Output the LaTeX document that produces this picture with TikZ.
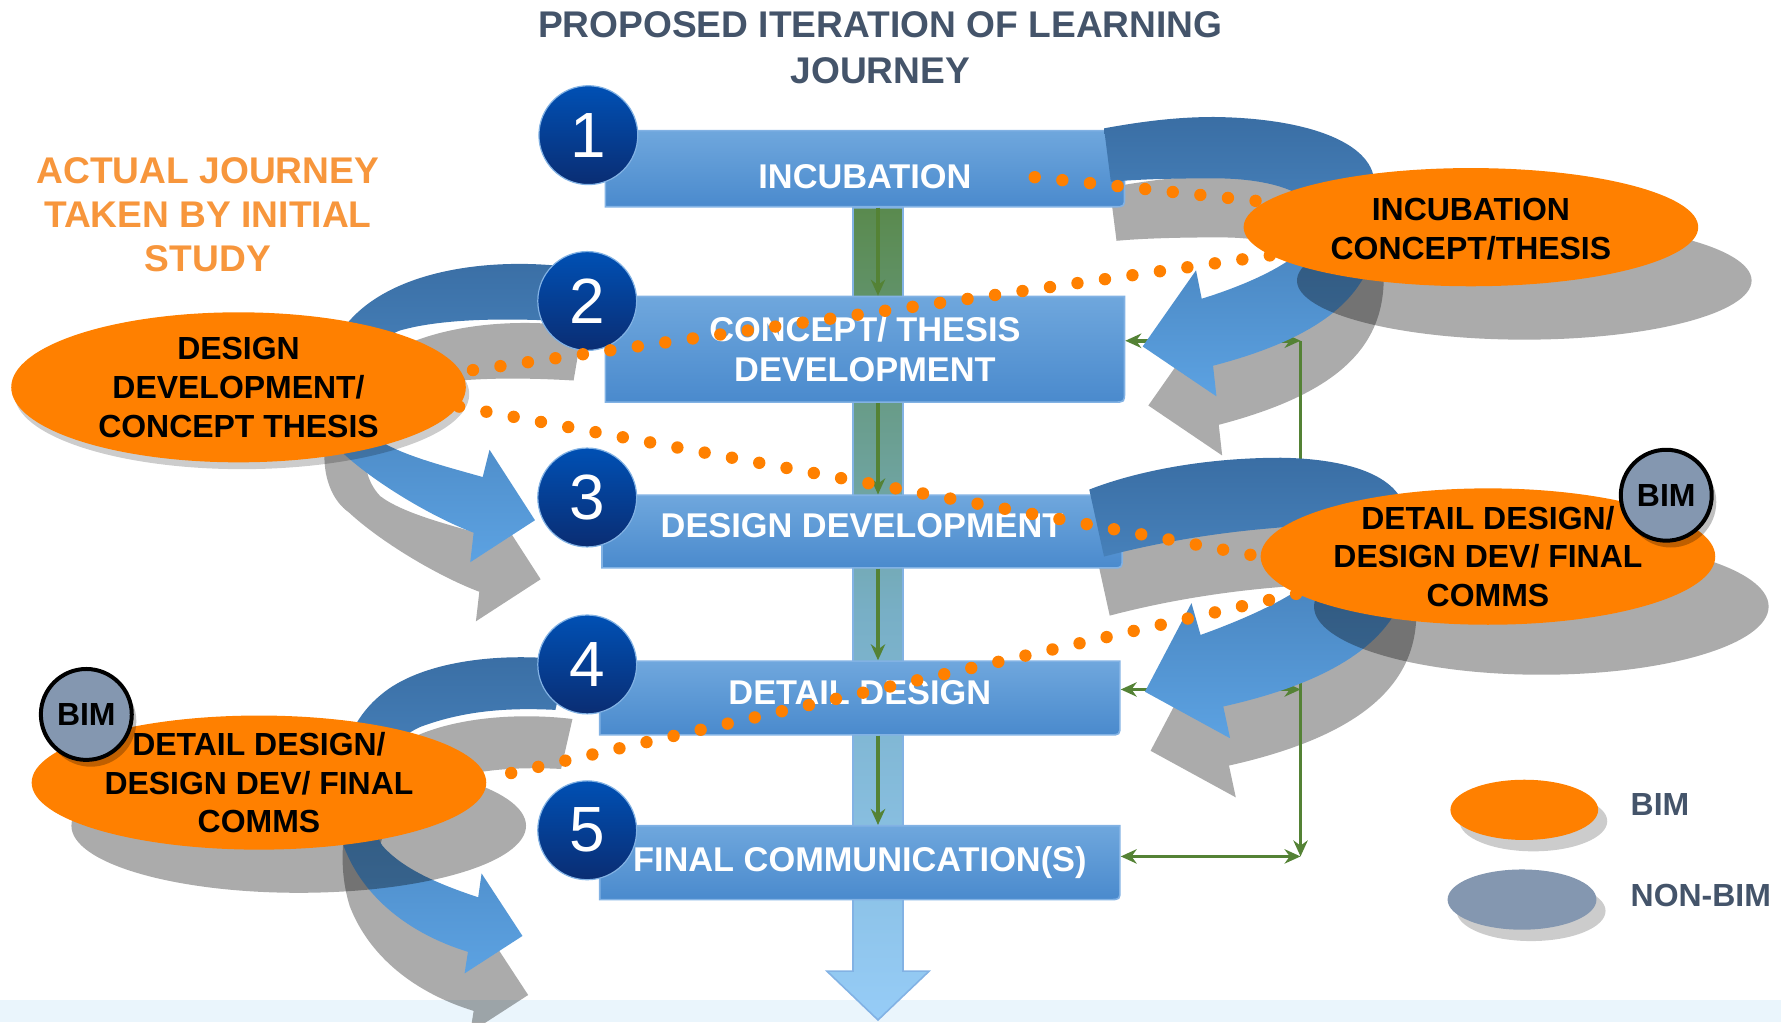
\documentclass[tikz,border=0pt]{standalone}
\usepackage{fontspec}
\setmainfont{Liberation Sans}
\usetikzlibrary{arrows.meta,shapes.geometric}

\definecolor{bimorange}{RGB}{255,128,0}
\definecolor{titleslate}{RGB}{68,84,106}
\definecolor{journeyorange}{RGB}{247,150,60}
\definecolor{stagetop}{RGB}{111,167,221}
\definecolor{stagebot}{RGB}{74,138,205}
\definecolor{stageedge}{RGB}{130,178,228}
\definecolor{disctop}{RGB}{0,80,180}
\definecolor{discbot}{RGB}{10,45,115}
\definecolor{loopdark}{RGB}{58,110,164}
\definecolor{looplight}{RGB}{92,162,226}
\definecolor{railgreen}{RGB}{84,130,53}
\definecolor{bargreen}{RGB}{90,138,78}
\definecolor{barmid}{RGB}{120,175,198}
\definecolor{barblue}{RGB}{150,204,247}
\definecolor{bimgrey}{RGB}{132,151,176}
\definecolor{footblue}{RGB}{234,245,252}

\pgfdeclarelayer{back}
\pgfsetlayers{back,main}

% outlines of the four journey loops
\newcommand\loopIncub{(972,113) .. controls (1010,106) and (1040,103) .. (1069,103)
  .. controls (1150,104) and (1208,125) .. (1210,160)
  .. controls (1225,240) and (1190,290) .. (1068,322)
  -- (1071,349) -- (1006,305) -- (1053,238) -- (1058,263)
  .. controls (1100,250) and (1160,225) .. (1160,195)
  .. controls (1160,170) and (1120,157) .. (1069,157)
  .. controls (1030,157) and (1000,158) .. (978,160) -- cycle}
\newcommand\loopConcept{(508,236) .. controls (440,226) and (350,235) .. (308,282)
  .. controls (270,325) and (275,380) .. (302,399)
  .. controls (330,425) and (380,455) .. (417,469)
  -- (414,495) -- (471,458) -- (431,396) -- (425,420)
  .. controls (390,410) and (350,400) .. (330,385)
  .. controls (305,360) and (315,305) .. (352,291)
  .. controls (390,280) and (450,280) .. (500,283) -- cycle}
\newcommand\loopDesign{(959,431) .. controls (1000,415) and (1060,403) .. (1128,403)
  .. controls (1190,404) and (1236,420) .. (1238,455)
  .. controls (1255,530) and (1220,590) .. (1077,622)
  -- (1083,650) -- (1008,609) -- (1049,531) -- (1057,559)
  .. controls (1110,540) and (1175,510) .. (1175,480)
  .. controls (1175,462) and (1150,462) .. (1120,465)
  .. controls (1060,470) and (1010,480) .. (972,490) -- cycle}
\newcommand\loopDetail{(499,581) .. controls (440,574) and (370,582) .. (335,612)
  .. controls (295,645) and (290,705) .. (303,746)
  .. controls (320,790) and (360,822) .. (412,838)
  -- (409,857) -- (460,824) -- (424,769) -- (421,790)
  .. controls (385,778) and (355,765) .. (337,745)
  .. controls (320,720) and (325,660) .. (370,640)
  .. controls (410,625) and (450,623) .. (489,625) -- cycle}

% stage box: [text options] name, x1, y1, x2, y2, text
\newcommand\stagebox[6][]{%
  \shade[stagefill] (#3,#4) -- (#5,#4) -- (#5,#6-9) .. controls (#5,#6) .. (#5-9,#6) -- (#3,#6) -- cycle;
  \node[stagetext, minimum width={(#5-#3)*0.01cm}, minimum height={(#6-#4)*0.01cm}, #1]
    (#2) at ({(#3+#5)/2},{(#4+#6)/2})}

\begin{document}
\begin{tikzpicture}[x=0.01cm, y=-0.01cm,
  >={Stealth[length=4pt,width=3.6pt]},
  stagetext/.style={text=white, align=center, inner sep=0pt, font=\fontsize{8.6}{10.2}\selectfont\bfseries},
  stagefill/.style={top color=stagetop, bottom color=stagebot, draw=stageedge, line width=0.4pt},
  disc/.style={circle, minimum size=0.87cm, inner sep=0pt, top color=disctop, bottom color=discbot,
    draw=stageedge, line width=0.3pt, text=white, font=\fontsize{16}{16}\selectfont},
  oval/.style={ellipse, fill=bimorange, inner sep=0pt, minimum width=4cm},
  ovalshadow/.style={ellipse, fill=black, opacity=0.33, inner sep=0pt, minimum width=4cm},
  ovaltext/.style={align=center, inner sep=0pt, font=\fontsize{8}{9.7}\selectfont\bfseries},
  bimtag/.style={circle, draw=black, line width=1pt, fill=bimgrey, minimum size=0.8cm, inner sep=0pt,
    font=\fontsize{8}{8}\selectfont\bfseries},
  loopshade/.style={top color=loopdark, bottom color=looplight},
  loopshadow/.style={fill=black, opacity=0.33, shift={(5,52)}},
  dots/.style={draw=bimorange, line width=3.1pt, line cap=round, dash pattern=on 0pt off 6.95pt},
  rail/.style={draw=railgreen, line width=0.9pt},
  legendtext/.style={anchor=west, inner sep=0pt, text=titleslate, font=\fontsize{8}{8}\selectfont\bfseries}]
\useasboundingbox (0,0) rectangle (1568,900);

\begin{pgfonlayer}{back}
% footer and the main flow arrow
\fill[footblue] (0,880) rectangle (1568,900);
\shadedraw[top color=bargreen, bottom color=barblue, middle color=barmid, draw=stageedge, line width=0.4pt]
  (751,183) -- (795,183) -- (795,855) -- (818,855) -- (773,898) -- (728,855) -- (751,855) -- cycle;

% shadows of the loops
\fill[loopshadow] \loopIncub;
\fill[loopshadow] \loopConcept;
\fill[loopshadow] \loopDesign;
\fill[loopshadow] \loopDetail;

% stages
\stagebox[text height=10pt, text depth=0pt]{b1}{533}{115}{990}{182}{INCUBATION};
\stagebox{b2}{533}{261}{990}{354}{CONCEPT/ THESIS\\DEVELOPMENT};
\stagebox[text height=6.3pt, text depth=3.2pt]{b3}{530}{436}{988}{500}{DESIGN DEVELOPMENT};
\stagebox[text height=6.3pt, text depth=3pt]{b4}{528}{582}{986}{647}{DETAIL DESIGN};
\stagebox{b5}{528}{727}{986}{792}{FINAL COMMUNICATION(S)};

\coordinate (barx) at (773,0);
\foreach \a/\b in {b1/b2,b2/b3,b3/b4,b4/b5}
  \draw[rail,->] (\a.south -| barx) -- (\b.north -| barx);

% feedback rail
\coordinate (railtop) at (1145,300);
\coordinate (railmid) at (1145,607);
\coordinate (railbot) at (1145,754);
\draw[rail,->] (railtop) -- (railbot);
\draw[rail,<->] (b2.east |- railtop) -- (railtop);
\draw[rail,<->] (b4.east |- railmid) -- (railmid);
\draw[rail,<->] (b5.east |- railbot) -- (railbot);

% journey loops
\shade[loopshade] \loopIncub;
\shade[loopshade] \loopConcept;
\shade[loopshade] \loopDesign;
\shade[loopshade] \loopDetail;

\node[disc] (n1) at (518,119) {1};
\node[disc] (n2) at (517,265) {2};
\node[disc] (n3) at (517,438) {3};
\node[disc] (n4) at (517,585) {4};
\node[disc] (n5) at (517,731) {5};

% shadows of the ovals
\node[ovalshadow, minimum height=1.04cm] (incubsh) at (1342,247) {};
\node[ovalshadow, minimum height=1.32cm, opacity=0.2] (ddcsh) at (213,347) {};
\node[ovalshadow, minimum height=1.2cm] (ddfsh) at (1357,534) {};
\node[ovalshadow, minimum height=1.18cm] (ddflsh) at (263,727) {};
\end{pgfonlayer}

% ovals
\node[oval, minimum height=1.04cm] (incub) at (1295,200) {};
\node[ovaltext] (incubtxt) at (1295,202) {INCUBATION\\CONCEPT/THESIS};
\node[oval, minimum height=1.32cm] (ddc) at (210,341) {};
\node[ovaltext] (ddctxt) at (ddc) {DESIGN\\DEVELOPMENT/\\CONCEPT THESIS};
\node[oval, minimum height=1.2cm] (ddf) at (1310,490) {};
\node[ovaltext] (ddftxt) at (ddf) {DETAIL DESIGN/\\DESIGN DEV/ FINAL\\COMMS};
\node[oval, minimum height=1.18cm] (ddfl) at (228,689) {};
\node[ovaltext] (ddfltxt) at (ddfl) {DETAIL DESIGN/\\DESIGN DEV/ FINAL\\COMMS};

\node[bimtag, draw=none, fill=black, opacity=0.25] (bimrsh) at (1471,442) {};
\node[bimtag] (bimr) at (1467,436) {BIM};
\node[bimtag, draw=none, fill=black, opacity=0.25] (bimlsh) at (80,635) {};
\node[bimtag] (biml) at (76,629) {BIM};

% titles
\node[align=center, text=titleslate, font=\fontsize{9.3}{11.4}\selectfont\bfseries] (title) at (775,42)
  {PROPOSED ITERATION OF LEARNING\\JOURNEY};
\node[align=center, text=journeyorange, font=\fontsize{9.3}{11.1}\selectfont\bfseries] (actual) at (183,189)
  {ACTUAL JOURNEY\\TAKEN BY INITIAL\\STUDY};

% legend
\node[ellipse, fill=black, opacity=0.2, minimum width=1.3cm, minimum height=0.53cm] (legbimsh) at (1350,723) {};
\node[oval, minimum width=1.3cm, minimum height=0.53cm] (legbim) at (1342,713) {};
\node[legendtext] (legbimtxt) at (1435,708) {BIM};
\node[ellipse, fill=black, opacity=0.2, minimum width=1.31cm, minimum height=0.53cm] (legnonsh) at (1348,802) {};
\node[ellipse, fill=bimgrey, minimum width=1.31cm, minimum height=0.53cm] (legnon) at (1340,792) {};
\node[legendtext] (legnontxt) at (1435,788) {NON-BIM};

% dotted journey path
\begin{pgfonlayer}{back}
\coordinate (incubdots) at (911,156);
\draw[dots] (incubdots) -- (incub.173);
\draw[dots] (incub.188) -- (ddc.4);
\draw[dots] (ddc.-5) -- (ddf.west);
\draw[dots] (ddf.191) -- (ddfl.1);
\end{pgfonlayer}
\end{tikzpicture}
\end{document}
